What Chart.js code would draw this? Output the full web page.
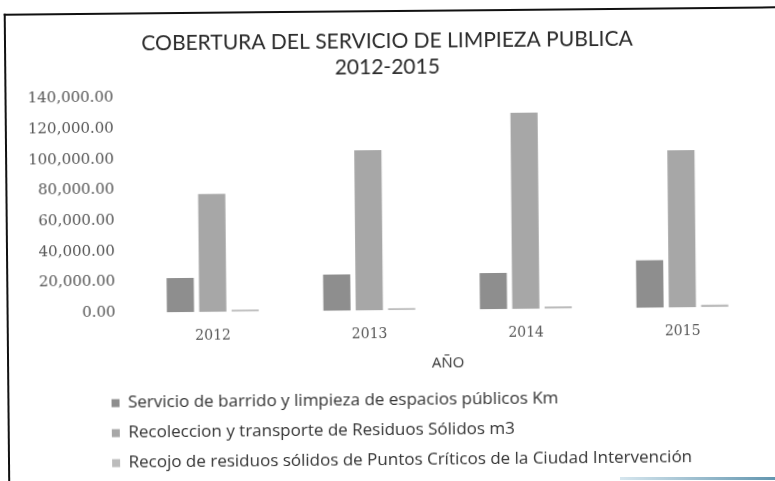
<!DOCTYPE html>
<html>
<head>
<meta charset="utf-8">
<script src="https://cdn.jsdelivr.net/npm/chart.js@4/dist/chart.umd.min.js"></script>
<style>
  html, body { margin: 0; padding: 0; background: #fff; }
  #hoja { position: relative; width: 775px; height: 481px; overflow: hidden; }
  #marco {
    position: absolute; left: 6px; top: 10px; width: 820px; height: 520px;
    border-left: 2px solid #111; border-top: 2px solid #111;
    transform: rotate(-0.55deg); transform-origin: 390px 240px;
  }
  #grafico { position: absolute; left: 0; top: 0; transform: rotate(-0.55deg); transform-origin: 390px 240px; }
  #borde { position: absolute; left: 620px; top: 477px; width: 160px; height: 3px;
    background: linear-gradient(to right, #d6e6ee, #5f93ad); }
</style>
</head>
<body>
<div id="hoja">
  <div id="marco"></div>
  <canvas id="grafico" width="775" height="481"></canvas>
  <div id="borde"></div>
</div>
<script>
// Años y series del servicio de limpieza
const anios = ['2012', '2013', '2014', '2015'];
const barrido = [22300, 23600, 23600, 30900];
const recoleccion = [76900, 104500, 128000, 102500];
const puntosCriticos = [1200, 1300, 1400, 1600];
const nombresSeries = [
    'Servicio de barrido y limpieza de espacios públicos Km',
    'Recoleccion y transporte de Residuos Sólidos m3',
    'Recojo de residuos sólidos de Puntos Críticos de la Ciudad Intervención'
];
const coloresSeries = ['#8e8e8e', '#a7a7a7', '#bcbcbc'];

// Mover la leyenda hacia la derecha, alineada bajo el eje
const leyendaIzquierda = {
    id: 'leyendaIzquierda',
    afterLayout(chart) {
        if (chart.legend) chart.legend.left = 97;
    }
};

new Chart(document.getElementById('grafico').getContext('2d'), {
    type: 'bar',
    data: {
        labels: anios,
        datasets: [barrido, recoleccion, puntosCriticos].map((valores, i) => ({
            label: nombresSeries[i],
            data: valores,
            backgroundColor: coloresSeries[i],
            categoryPercentage: 0.62,
            barPercentage: 0.84
        }))
    },
    options: {
        responsive: false,
        animation: false,
        layout: { padding: { top: 28, right: 15, left: 18, bottom: 2 } },
        scales: {
            y: {
                min: 0,
                max: 140000,
                grid: { display: false },
                border: { display: false },
                ticks: {
                    stepSize: 20000,
                    color: '#555',
                    padding: 11,
                    font: { family: 'DejaVu Serif', size: 15 },
                    callback: v => v.toLocaleString('en-US', { minimumFractionDigits: 2, maximumFractionDigits: 2 })
                }
            },
            x: {
                grid: { display: false },
                border: { display: false },
                ticks: {
                    color: '#555',
                    padding: 8,
                    font: { family: 'DejaVu Serif', size: 14 }
                },
                title: {
                    display: true,
                    text: 'AÑO',
                    color: '#333',
                    padding: { top: 4, bottom: 6 },
                    font: { family: 'Open Sans', size: 15 }
                }
            }
        },
        plugins: {
            title: {
                display: true,
                text: ['COBERTURA DEL SERVICIO DE LIMPIEZA PUBLICA', '2012-2015'],
                color: '#2a2a2a',
                font: { family: 'Lato', size: 21, weight: 'normal', lineHeight: 1.25 },
                padding: { top: 0, bottom: 15 }
            },
            legend: {
                position: 'bottom',
                align: 'start',
                labels: {
                    boxWidth: 8,
                    boxHeight: 8,
                    padding: 13,
                    color: '#333',
                    font: { family: 'Open Sans', size: 17 }
                }
            },
            tooltip: { enabled: false }
        }
    },
    plugins: [leyendaIzquierda]
});
</script>
</body>
</html>
